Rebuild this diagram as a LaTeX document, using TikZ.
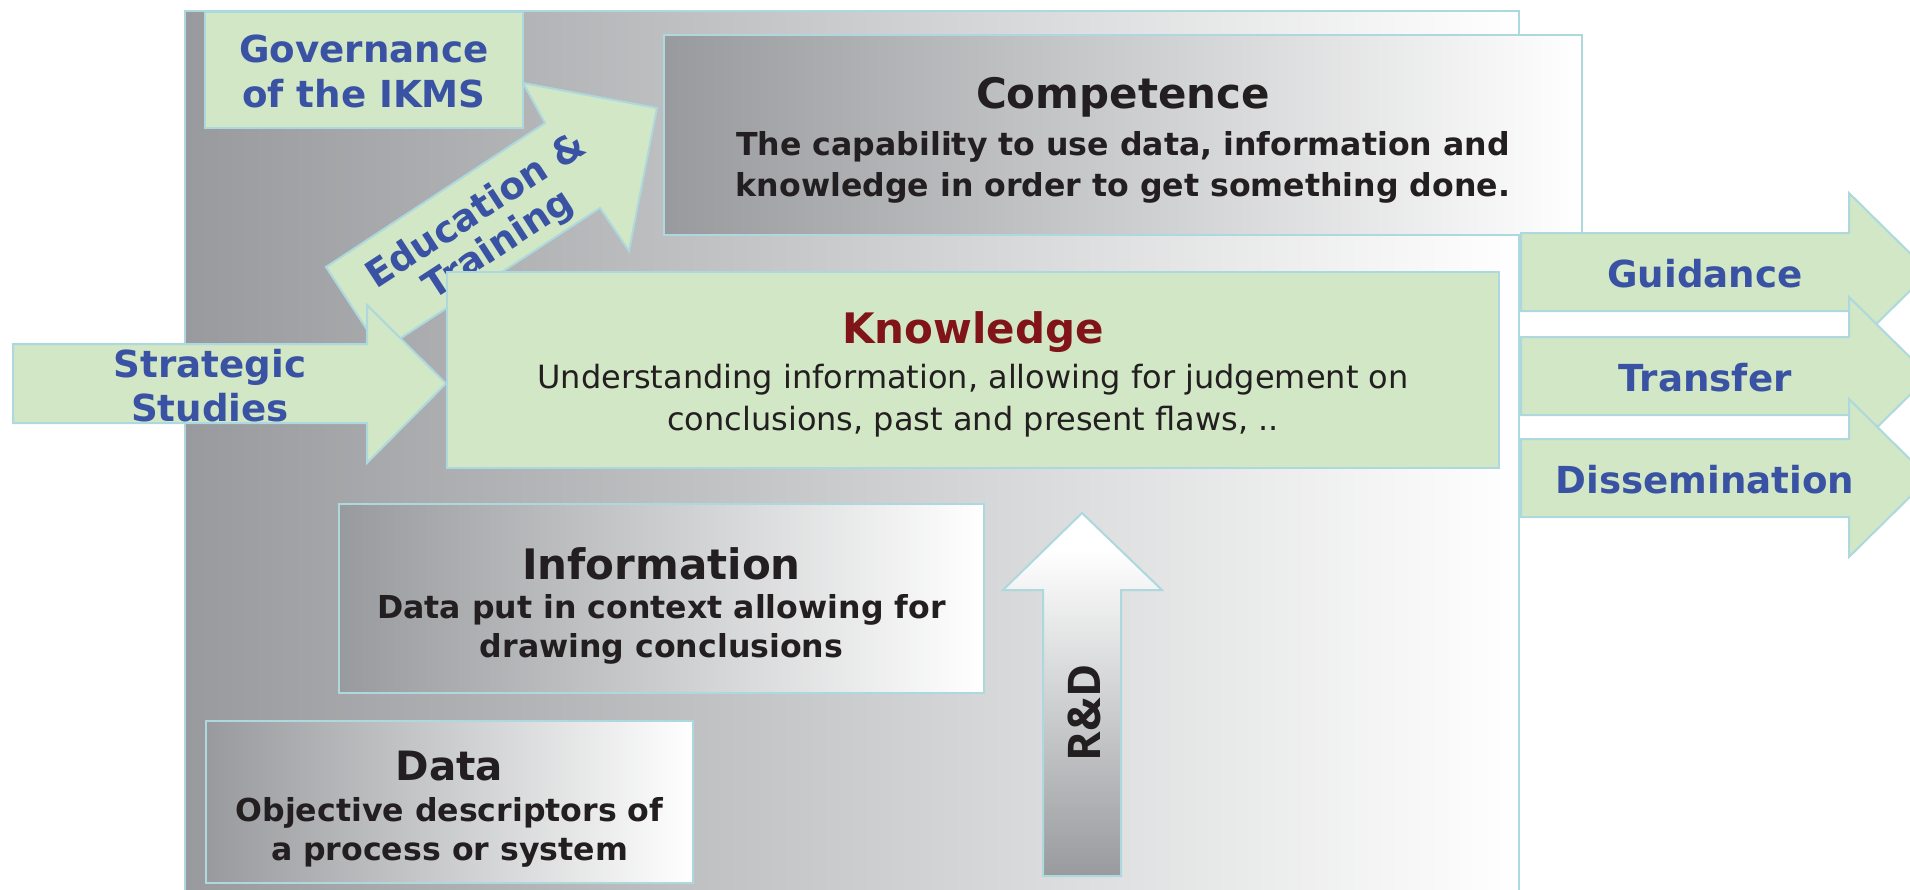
\documentclass[tikz,border=0pt]{standalone}
\usepackage{fontspec}
\setmainfont{DejaVu Sans}
\newfontfamily\rdfont{Open Sans}
\definecolor{gcol}{RGB}{152,154,157}
\definecolor{bordercol}{RGB}{172,216,222}
\definecolor{greenfill}{RGB}{209,231,197}
\definecolor{bluetext}{RGB}{58,82,163}
\definecolor{redtext}{RGB}{128,20,24}
\definecolor{darktext}{RGB}{35,31,32}
\pgfdeclareverticalshading{rdshade}{100bp}{color(0bp)=(gcol); color(25bp)=(gcol); color(70bp)=(white); color(100bp)=(white)}
\begin{document}
\begin{tikzpicture}[x=0.5pt,y=-0.5pt,
  box/.style={draw=bordercol, line width=1pt, inner sep=0pt, outer sep=0pt},
  graybox/.style={box, left color=gcol, right color=white},
  greenbox/.style={box, fill=greenfill},
  arrowshape/.style={draw=bordercol, line width=1pt, fill=greenfill, line join=miter},
  titletext/.style={font=\fontsize{21pt}{25pt}\selectfont\bfseries, text=darktext, inner sep=0pt, anchor=base},
  subtext/.style={font=\fontsize{15.8pt}{19pt}\selectfont\bfseries, text=darktext, inner sep=0pt, anchor=base},
  bodytext/.style={font=\fontsize{16pt}{19pt}\selectfont, text=darktext, inner sep=0pt, anchor=base},
  bluetxt/.style={font=\fontsize{18.6pt}{19pt}\selectfont\bfseries, text=bluetext, inner sep=0pt, anchor=base},
]
\useasboundingbox (0,0) rectangle (1910,889);
\clip (0,0) rectangle (1910,889);

% background panel
\node[graybox, minimum width=667pt, minimum height=444.5pt] (bg) at (852,455.5) {};

% governance
\node[greenbox, minimum width=159pt, minimum height=58pt] (gov) at (364,70) {};
\node[bluetxt] (govA) at (364,62) {Governance};
\node[bluetxt] (govB) at (364,107) {of the IKMS};

% competence
\node[graybox, minimum width=459pt, minimum height=100pt] (comp) at (1123,135) {};
\node[titletext] (compT) at (1123,108) {Competence};
\node[subtext] (compA) at (1123,155) {The capability to use data, information and};
\node[subtext] (compB) at (1123,196) {knowledge in order to get something done.};

% education & training arrow
\draw[arrowshape] (326,267) -- (545,123) -- (523,83) -- (657,108) -- (629,251) -- (600,208) -- (381,351) -- cycle;
\node[bluetxt, font=\fontsize{18.6pt}{20pt}\selectfont\bfseries, anchor=center, align=center, rotate=33] (edu) at (488,229) {Education \&\\Training};

% strategic studies arrow
\draw[arrowshape] (13,344) -- (367,344) -- (367,305) -- (446,383.5) -- (367,463) -- (367,423) -- (13,423) -- cycle;
\node[bluetxt] (strA) at (210,377) {Strategic};
\node[bluetxt] (strB) at (210,421) {Studies};

% knowledge
\node[greenbox, minimum width=526pt, minimum height=98pt] (know) at (973,370) {};
\node[titletext, text=redtext] (knowT) at (973,343) {Knowledge};
\node[bodytext] (knowA) at (973,388) {Understanding information, allowing for judgement on};
\node[bodytext] (knowB) at (973,430) {conclusions, past and present flaws, ..};

% information
\node[graybox, minimum width=322.5pt, minimum height=94.5pt] (info) at (661.5,598.5) {};
\node[titletext] (infoT) at (661.5,579) {Information};
\node[subtext] (infoA) at (661.5,618) {Data put in context allowing for};
\node[subtext] (infoB) at (661.5,657) {drawing conclusions};

% data
\node[graybox, minimum width=243.5pt, minimum height=81pt] (data) at (449.5,802) {};
\node[titletext, font=\fontsize{20.2pt}{24pt}\selectfont\bfseries] (dataT) at (449.5,780) {Data};
\node[subtext] (dataA) at (449.5,821) {Objective descriptors of};
\node[subtext] (dataB) at (449.5,860) {a process or system};

% R&D arrow
\draw[box, shade, shading=rdshade] (1082,513) -- (1162,590) -- (1121,590) -- (1121,876) -- (1043,876) -- (1043,590) -- (1003,590) -- cycle;
\node[font=\rdfont\fontsize{22.5pt}{26pt}\selectfont\bfseries, text=darktext, rotate=90, inner sep=0pt] (rd) at (1084,713) {R\&D};

% output arrows
\draw[arrowshape] (1521,233) -- (1849,233) -- (1849,193) -- (1929,272) -- (1849,351) -- (1849,311) -- (1521,311) -- cycle;
\node[bluetxt] (guid) at (1705,287) {Guidance};
\draw[arrowshape] (1521,337) -- (1849,337) -- (1849,297) -- (1929,376) -- (1849,455) -- (1849,415) -- (1521,415) -- cycle;
\node[bluetxt] (trans) at (1705,391) {Transfer};
\draw[arrowshape] (1521,439) -- (1849,439) -- (1849,399) -- (1929,478) -- (1849,557) -- (1849,517) -- (1521,517) -- cycle;
\node[bluetxt] (diss) at (1705,493) {Dissemination};
\end{tikzpicture}
\end{document}
